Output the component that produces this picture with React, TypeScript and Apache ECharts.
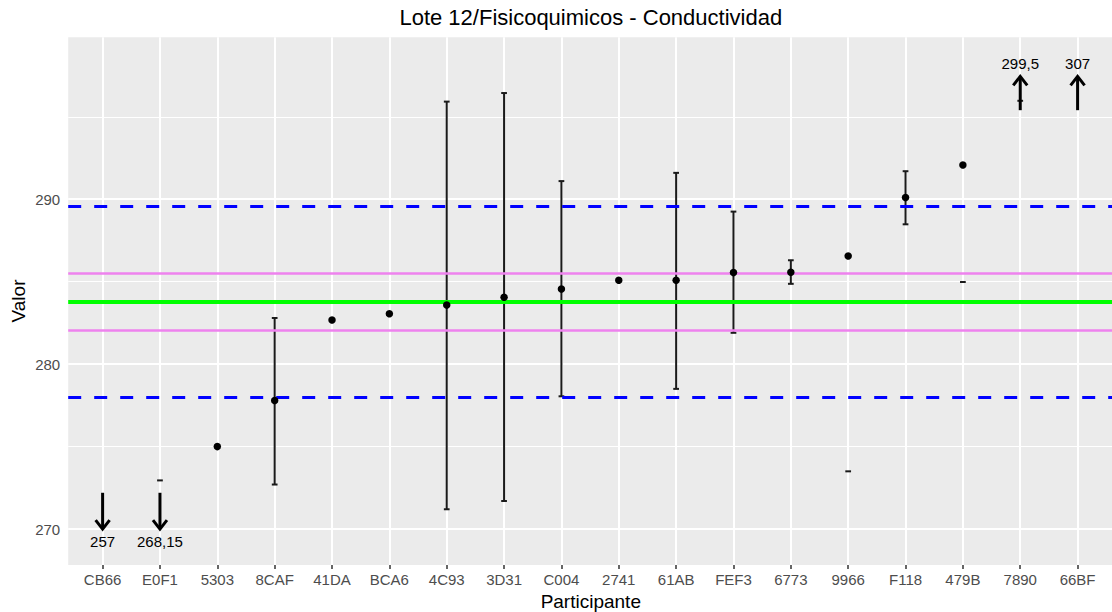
import React, { useEffect, useRef } from "react";
import * as echarts from "echarts";

// ---------- data ----------
const participants = [
  "CB66", "E0F1", "5303", "8CAF", "41DA", "BCA6", "4C93", "3D31", "C004",
  "2741", "61AB", "FEF3", "6773", "9966", "F118", "479B", "7890", "66BF",
];
const results = [
  257, 268.15, 275.0, 277.8, 282.68, 283.06, 283.58, 284.06, 284.56,
  285.09, 285.09, 285.55, 285.57, 286.56, 290.1, 292.08, 299.5, 307,
];
const errLow = [
  null, null, null, 272.7, null, null, 271.2, 271.7, 278.05,
  null, 278.5, 281.9, 284.87, null, 288.48, null, null, null,
];
const errHigh = [
  null, null, null, 282.8, null, null, 295.92, 296.44, 291.1,
  null, 291.6, 289.25, 286.3, null, 291.7, null, null, null,
];
const extraMarks = [
  null, 272.95, null, null, null, null, null, null, null,
  null, null, null, null, 273.5, null, 284.98, 295.97, null,
];
const assignedValue = 283.79;
const innerLimits = [282.07, 285.52];
const outerLimits = [277.98, 289.6];
const yMajorTicks = [270, 280, 290];
const yMinorTicks = [275, 285, 295];
const displayRange = [270, 298];

// ---------- layout constants ----------
const Y_MIN = 267.82;
const Y_MAX = 299.82;
const X_MIN = -0.6;
const X_MAX = 17.6;
const LOW_ARROW = { tail: 272.2, tip: 270.0, label: 269.25 };
const HIGH_ARROW = { tail: 295.4, tip: 297.45, label: 298.25 };
const FONT = '"Liberation Sans", Arial, sans-serif';

const fmt = (v: number) => String(v).replace(".", ",");

export default function App() {
  const ref = useRef<HTMLDivElement>(null);

  useEffect(() => {
    if (!ref.current) return;
    const chart = echarts.init(ref.current, null, { renderer: "svg" });

    const xIdx = participants.map((_, i) => i);
    const inRange = (v: number) => v >= displayRange[0] && v <= displayRange[1];

    const pointData = results
      .map((v, i) => [i, v])
      .filter((d) => inRange(d[1]));
    const arrowData = results
      .map((v, i) => [i, v])
      .filter((d) => !inRange(d[1]));
    const errData: number[][] = [];
    errLow.forEach((lo, i) => {
      const hi = errHigh[i];
      if (lo != null && hi != null) errData.push([i, lo, hi]);
    });
    const markData: number[][] = [];
    extraMarks.forEach((v, i) => {
      if (v != null) markData.push([i, v]);
    });

    const gridLines = [
      ...yMinorTicks.map((v) => ({ yAxis: v, lineStyle: { color: "#FFFFFF", width: 1, type: "solid" } })),
      ...yMajorTicks.map((v) => ({ yAxis: v, lineStyle: { color: "#FFFFFF", width: 2, type: "solid" } })),
      ...xIdx.map((v) => ({ xAxis: v, lineStyle: { color: "#FFFFFF", width: 2, type: "solid" } })),
    ];

    const refLines = [
      { yAxis: outerLimits[0], lineStyle: { color: "#0000FF", width: 3, type: [13, 13] } },
      { yAxis: outerLimits[1], lineStyle: { color: "#0000FF", width: 3, type: [13, 13] } },
      { yAxis: innerLimits[0], lineStyle: { color: "#EE82EE", width: 2.5, type: "solid" } },
      { yAxis: innerLimits[1], lineStyle: { color: "#EE82EE", width: 2.5, type: "solid" } },
      { yAxis: assignedValue, lineStyle: { color: "#00FF00", width: 4, type: "solid" } },
    ];

    const option: any = {
      animation: false,
      backgroundColor: "#FFFFFF",
      grid: {
        left: 68.2,
        right: -1.4,
        top: 37.3,
        bottom: 47,
        show: true,
        backgroundColor: "#EBEBEB",
        borderWidth: 0,
      },
      xAxis: {
        type: "value",
        min: X_MIN,
        max: X_MAX,
        axisLine: { show: false },
        splitLine: { show: false },
        axisTick: {
          show: true,
          customValues: xIdx,
          length: 4,
          lineStyle: { color: "#333333", width: 1.5 },
        },
        axisLabel: {
          customValues: xIdx,
          formatter: (v: number) => participants[Math.round(v)] ?? "",
          color: "#4D4D4D",
          fontSize: 15,
          fontFamily: FONT,
          margin: 7,
        },
      },
      yAxis: {
        type: "value",
        min: Y_MIN,
        max: Y_MAX,
        axisLine: { show: false },
        splitLine: { show: false },
        axisTick: {
          show: true,
          customValues: yMajorTicks,
          length: 4,
          lineStyle: { color: "#333333", width: 1.5 },
        },
        axisLabel: {
          customValues: yMajorTicks,
          color: "#4D4D4D",
          fontSize: 15,
          fontFamily: FONT,
          margin: 8,
        },
      },
      graphic: [
        {
          type: "text",
          x: 590.8,
          y: 17,
          style: {
            text: "Lote 12/Fisicoquimicos - Conductividad",
            fill: "#000000",
            font: `22px ${FONT}`,
            align: "center",
            verticalAlign: "middle",
          },
        },
        {
          type: "text",
          x: 590.8,
          y: 601,
          style: {
            text: "Participante",
            fill: "#000000",
            font: `19px ${FONT}`,
            align: "center",
            verticalAlign: "middle",
          },
        },
        {
          type: "text",
          x: 18,
          y: 301,
          rotation: Math.PI / 2,
          style: {
            text: "Valor",
            fill: "#000000",
            font: `19px ${FONT}`,
            align: "center",
            verticalAlign: "middle",
          },
        },
      ],
      series: [
        {
          name: "grid",
          type: "line",
          data: [],
          z: 1,
          silent: true,
          markLine: {
            z: 1,
            silent: true,
            symbol: ["none", "none"],
            label: { show: false },
            emphasis: { disabled: true },
            data: gridLines,
          },
        },
        {
          name: "errorbars",
          type: "custom",
          z: 2,
          silent: true,
          data: errData,
          renderItem: (params: any, api: any) => {
            const x = api.value(0);
            const lo = api.value(1);
            const hi = api.value(2);
            const p1 = api.coord([x, lo]);
            const p2 = api.coord([x, hi]);
            const hw = api.coord([x + 0.05, lo])[0] - p1[0];
            const st = { stroke: "#1A1A1A", lineWidth: 2 };
            return {
              type: "group",
              children: [
                { type: "line", shape: { x1: p1[0], y1: p1[1], x2: p2[0], y2: p2[1] }, style: st },
                { type: "line", shape: { x1: p1[0] - hw, y1: p1[1], x2: p1[0] + hw, y2: p1[1] }, style: st },
                { type: "line", shape: { x1: p2[0] - hw, y1: p2[1], x2: p2[0] + hw, y2: p2[1] }, style: st },
              ],
            };
          },
        },
        {
          name: "marks",
          type: "custom",
          z: 2,
          silent: true,
          data: markData,
          renderItem: (params: any, api: any) => {
            const x = api.value(0);
            const v = api.value(1);
            const p = api.coord([x, v]);
            const hw = api.coord([x + 0.05, v])[0] - p[0];
            return {
              type: "line",
              shape: { x1: p[0] - hw, y1: p[1], x2: p[0] + hw, y2: p[1] },
              style: { stroke: "#1A1A1A", lineWidth: 2 },
            };
          },
        },
        {
          name: "reference",
          type: "line",
          data: [],
          z: 3,
          silent: true,
          markLine: {
            z: 3,
            silent: true,
            symbol: ["none", "none"],
            label: { show: false },
            emphasis: { disabled: true },
            data: refLines,
          },
        },
        {
          name: "results",
          type: "scatter",
          z: 4,
          silent: true,
          symbol: "circle",
          symbolSize: 7.5,
          itemStyle: { color: "#000000", opacity: 1 },
          data: pointData,
        },
        {
          name: "outliers",
          type: "custom",
          z: 5,
          silent: true,
          data: arrowData,
          renderItem: (params: any, api: any) => {
            const x = api.value(0);
            const v = api.value(1);
            const down = v < displayRange[0];
            const a = down ? LOW_ARROW : HIGH_ARROW;
            const t = api.coord([x, a.tail]);
            const h = api.coord([x, a.tip]);
            const l = api.coord([x, a.label]);
            const dir = down ? 1 : -1;
            const st = { stroke: "#000000", lineWidth: 3, fill: null, lineJoin: "miter" };
            return {
              type: "group",
              children: [
                { type: "line", shape: { x1: t[0], y1: t[1], x2: h[0], y2: h[1] - dir * 1.5 }, style: st },
                {
                  type: "polyline",
                  shape: { points: [[h[0] - 7, h[1] - dir * 9], [h[0], h[1]], [h[0] + 7, h[1] - dir * 9]] },
                  style: st,
                },
                {
                  type: "text",
                  x: l[0],
                  y: l[1],
                  style: {
                    text: fmt(v),
                    fill: "#000000",
                    font: `15px ${FONT}`,
                    align: "center",
                    verticalAlign: "middle",
                  },
                },
              ],
            };
          },
        },
      ],
    };

    chart.setOption(option);
    return () => chart.dispose();
  }, []);

  return (
    <div
      ref={ref}
      style={{ position: "fixed", left: 0, top: 0, width: 1112, height: 612, background: "#FFFFFF" }}
    />
  );
}
